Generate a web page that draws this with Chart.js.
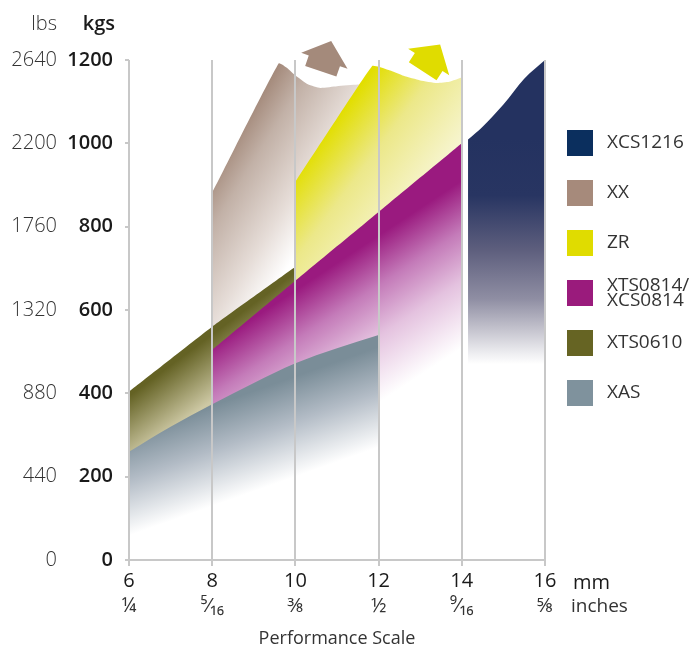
<!DOCTYPE html>
<html>
<head>
<meta charset="utf-8">
<title>Performance Scale</title>
<script src="https://cdn.jsdelivr.net/npm/chart.js@4.4.0/dist/chart.umd.min.js"></script>
<style>
    html, body { margin: 0; padding: 0; background: #fff; }
    #wrap { width: 693px; height: 650px; }
</style>
</head>
<body>
<div id="wrap"><canvas id="perf-chart" width="693" height="650"></canvas></div>
<script>
(function() {
    'use strict';

    var FONT = "'Open Sans', 'Noto Sans', sans-serif";

    // axes
    var mmTicks = [6, 8, 10, 12, 14, 16];
    var inchLabels = ['¼', '⁵⁄₁₆', '⅜', '½', '⁹⁄₁₆', '⅝'];
    var kgTicks = [0, 200, 400, 600, 800, 1000, 1200];
    var lbsTicks = [0, 440, 880, 1320, 1760, 2200, 2640];

    // upper edge of each band, mm -> kgs
    var xasMm = [6, 7, 8, 9, 10, 11, 12];
    var xasKg = [260, 320, 374, 425, 472, 508, 540];

    var xts0610Mm = [6, 8, 10];
    var xts0610Kg = [404, 560, 704];

    var xts0814Mm = [8, 10, 12, 14];
    var xts0814Kg = [504, 670, 835, 1000];

    var zrMm = [10, 11, 11.85, 12, 12.3, 12.6, 13, 13.4, 13.7, 14];
    var zrKg = [908, 1060, 1186, 1184, 1174, 1162, 1151, 1145, 1148, 1158];

    var xxMm = [8, 9.6, 9.8, 10, 10.3, 10.6, 11, 11.5, 12];
    var xxKg = [881, 1192, 1181, 1163, 1142, 1133, 1137, 1141, 1145];

    var xcs1216Mm = [14.15, 14.5, 15, 15.5, 16];
    var xcs1216Kg = [1009, 1040, 1093, 1155, 1200];

    var legendNames = ['XCS1216', 'XX', 'ZR', 'XTS0814/\nXCS0814', 'XTS0610', 'XAS'];
    var legendColors = ['#0b2f5e', '#a68a7b', '#e0dc00', '#9a1b7c', '#666423', '#7f929d'];

    function pts(xs, ys) {
        return xs.map(function(x, i) {
            return {x: x, y: ys[i]};
        });
    }

    // gradient anchored in data units so it follows the scales
    function shade(from, to, stops) {
        return function(ctx) {
            var chart = ctx.chart;
            if (!chart.chartArea) {
                return stops[0][1];
            }
            var xs = chart.scales.x, ys = chart.scales.y;
            var g = chart.ctx.createLinearGradient(
                xs.getPixelForValue(from[0]), ys.getPixelForValue(from[1]),
                xs.getPixelForValue(to[0]), ys.getPixelForValue(to[1]));
            stops.forEach(function(s) {
                g.addColorStop(s[0], s[1]);
            });
            return g;
        };
    }

    function band(label, data, bg, curved) {
        return {
            label: label,
            data: data,
            fill: 'origin',
            backgroundColor: bg,
            borderWidth: 0,
            borderColor: 'rgba(0,0,0,0)',
            pointRadius: 0,
            cubicInterpolationMode: curved ? 'monotone' : 'default',
            tension: curved ? 0 : 0.15
        };
    }

    // first dataset is painted last (on top)
    var datasets = [
        band('XAS', pts(xasMm, xasKg),
             shade([6.5, 317], [7.26, 103], [[0, '#7a8d98'], [0.45, '#b3bcc6'], [1, '#ffffff']]), true),
        band('XTS0814/XCS0814', pts(xts0814Mm, xts0814Kg),
             shade([8.25, 532], [10.1, 252], [[0, '#9a1a7f'], [0.3, '#c47bb9'], [0.6, '#e4c2df'], [1, '#ffffff']]), false),
        band('XTS0610', pts(xts0610Mm, xts0610Kg),
             shade([8.6, 586], [9.36, 484], [[0, '#646224'], [1, '#cdc8a4']]), false),
        band('ZR', pts(zrMm, zrKg),
             shade([9.44, 854], [11.65, 689], [[0, '#e2de00'], [0.45, '#ece889'], [1, '#f7f5d0']]), false),
        band('XX', pts(xxMm, xxKg),
             shade([8.42, 1000], [10.77, 854], [[0, '#a48a7b'], [0.26, '#c2b1a7'], [0.7, '#e6ddd8'], [1, '#ffffff']]), false),
        band('XCS1216', pts(xcs1216Mm, xcs1216Kg),
             shade([15, 1010], [15, 470], [[0, '#243260'], [0.25, '#283562'], [0.49, '#5d5e7d'],
                                           [0.71, '#8f8ea3'], [0.85, '#c6c5cf'], [0.94, '#e9e9ed'], [1, '#ffffff']]), true)
    ];

    function drawArrow(ctx, chart, mm, kg, angle, color) {
        var px = chart.scales.x.getPixelForValue(mm),
            py = chart.scales.y.getPixelForValue(kg);
        ctx.save();
        ctx.translate(px, py);
        ctx.rotate(angle * Math.PI / 180);
        ctx.fillStyle = color;
        ctx.beginPath();
        ctx.moveTo(-16.5, 0);
        ctx.lineTo(16.5, 0);
        ctx.lineTo(16.5, -11);
        ctx.lineTo(24.5, -11);
        ctx.lineTo(0, -32);
        ctx.lineTo(-24.5, -11);
        ctx.lineTo(-16.5, -11);
        ctx.closePath();
        ctx.fill();
        ctx.restore();
    }

    var decorations = {
        id: 'decorations',
        afterDraw: function(chart) {
            var ctx = chart.ctx,
                area = chart.chartArea,
                lbs = chart.scales.lbs,
                y = chart.scales.y;

            ctx.save();
            ctx.textBaseline = 'middle';

            // axis unit headers
            ctx.textAlign = 'right';
            ctx.fillStyle = '#333';
            ctx.font = '300 20px ' + FONT;
            ctx.fillText('lbs', lbs.right - 7, 24);
            ctx.fillStyle = '#1a1a1a';
            ctx.font = '600 20px ' + FONT;
            ctx.fillText('kgs', y.right - 14, 24);

            ctx.textAlign = 'left';
            ctx.font = '20px ' + FONT;
            ctx.fillText('mm', area.right + 28, 583);
            ctx.fillStyle = '#333';
            ctx.font = '19px ' + FONT;
            ctx.fillText('inches', area.right + 26, 607);

            // legend
            ctx.font = '19px ' + FONT;
            legendNames.forEach(function(name, i) {
                var top = 130 + i * 50;
                ctx.fillStyle = legendColors[i];
                ctx.fillRect(area.right + 22, top, 26, 26);
                ctx.fillStyle = '#333';
                var lines = name.split('\n');
                lines.forEach(function(line, j) {
                    var cy = top + 13 + (j - (lines.length - 1) / 2) * 15;
                    ctx.fillText(line, area.right + 62, cy);
                });
            });
            ctx.restore();

            drawArrow(ctx, chart, 10.61, 1173, 19, '#a48a7b');
            drawArrow(ctx, chart, 13.06, 1173, 33, '#e0dc00');
        }
    };

    function plain(v) {
        return String(v);
    }

    var chart = new Chart(document.getElementById('perf-chart'), {
        type: 'line',
        data: {datasets: datasets},
        plugins: [decorations],
        options: {
            responsive: false,
            animation: false,
            layout: {padding: {top: 60, right: 148, left: 0, bottom: 0}},
            plugins: {
                legend: {display: false},
                tooltip: {enabled: false}
            },
            scales: {
                x: {
                    type: 'linear',
                    position: 'bottom',
                    weight: 0,
                    min: 6,
                    max: 16,
                    afterFit: function(s) { s.height = 34; },
                    afterBuildTicks: function(s) {
                        s.ticks = mmTicks.map(function(v) { return {value: v}; });
                    },
                    ticks: {
                        color: '#1a1a1a',
                        font: {family: FONT, size: 20},
                        padding: 3,
                        maxRotation: 0,
                        autoSkip: false,
                        callback: plain
                    },
                    grid: {color: '#c8c8c8', lineWidth: 2, tickLength: 6, z: 1},
                    border: {color: '#c8c8c8', width: 2, z: 1}
                },
                x2: {
                    type: 'linear',
                    position: 'bottom',
                    weight: 1,
                    min: 6,
                    max: 16,
                    afterFit: function(s) { s.height = 56; },
                    afterBuildTicks: function(s) {
                        s.ticks = mmTicks.map(function(v) { return {value: v}; });
                    },
                    ticks: {
                        color: '#333',
                        font: {family: FONT, size: 20},
                        padding: 0,
                        maxRotation: 0,
                        autoSkip: false,
                        callback: function(v) {
                            var i = mmTicks.indexOf(v);
                            return i < 0 ? '' : inchLabels[i];
                        }
                    },
                    grid: {display: false, drawTicks: false},
                    border: {display: false},
                    title: {
                        display: true,
                        text: 'Performance Scale',
                        color: '#333',
                        font: {family: FONT, size: 18},
                        padding: 0
                    }
                },
                y: {
                    type: 'linear',
                    position: 'left',
                    weight: 0,
                    min: 0,
                    max: 1200,
                    afterFit: function(s) { s.width = 65; },
                    afterBuildTicks: function(s) {
                        s.ticks = kgTicks.map(function(v) { return {value: v}; });
                    },
                    ticks: {
                        color: '#1a1a1a',
                        font: {family: FONT, size: 20, weight: '600'},
                        padding: 12,
                        callback: plain
                    },
                    grid: {drawOnChartArea: false, color: '#c8c8c8', lineWidth: 2, tickLength: 4},
                    border: {display: false}
                },
                lbs: {
                    type: 'linear',
                    position: 'left',
                    weight: 1,
                    min: 0,
                    max: 2640,
                    afterFit: function(s) { s.width = 64; },
                    afterBuildTicks: function(s) {
                        s.ticks = lbsTicks.map(function(v) { return {value: v}; });
                    },
                    ticks: {
                        color: '#333',
                        font: {family: FONT, size: 20, weight: '300'},
                        padding: 7,
                        callback: plain
                    },
                    grid: {display: false, drawTicks: false},
                    border: {display: false}
                }
            }
        }
    });
})();
</script>
</body>
</html>
